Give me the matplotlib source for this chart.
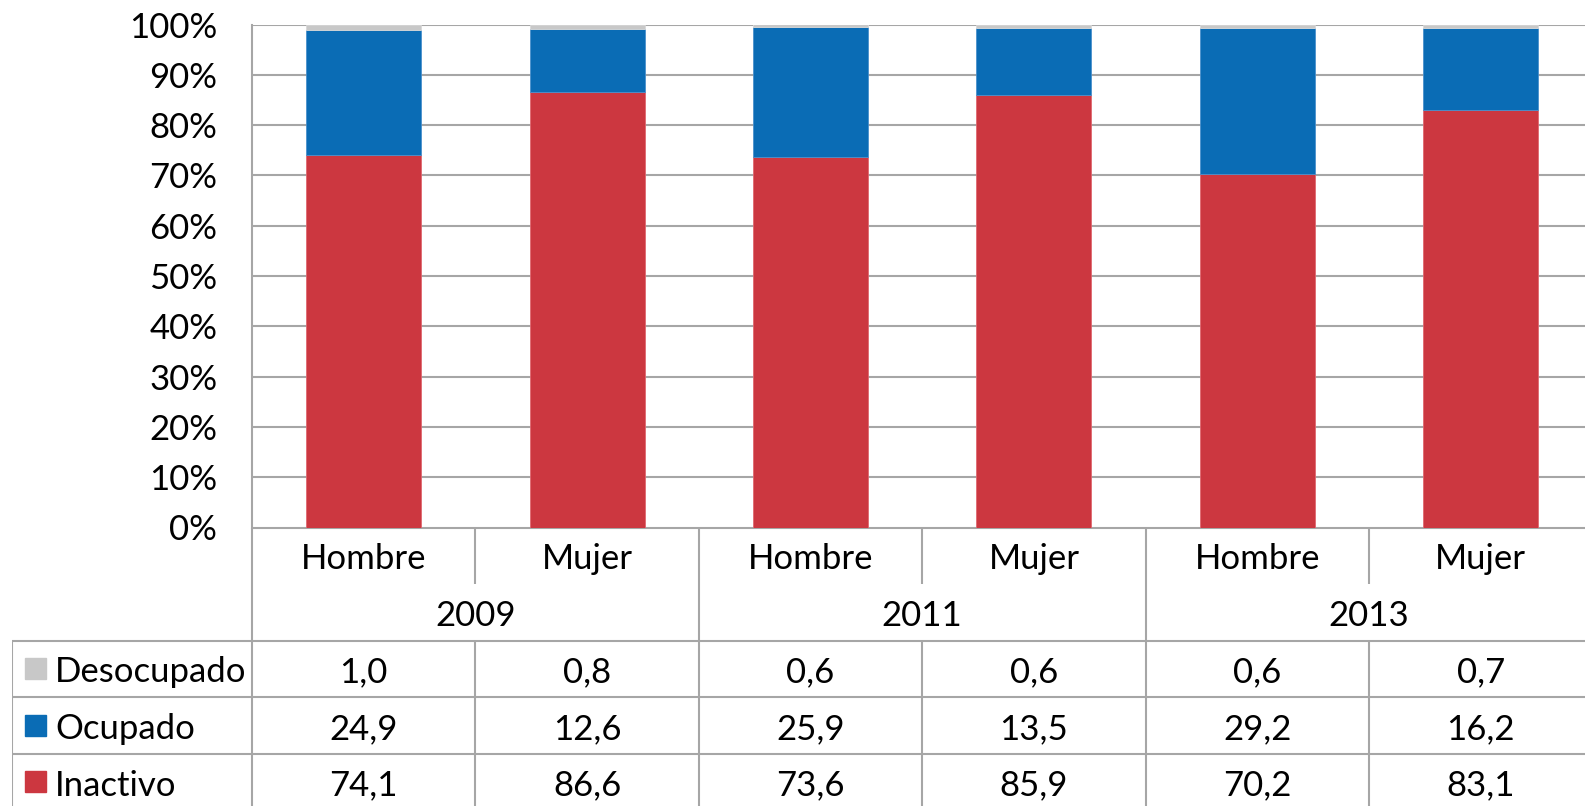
import matplotlib.pyplot as plt
import numpy as np

plt.rcParams['font.family'] = ['Lato', 'DejaVu Sans']

# datos
anios = ['2009', '2011', '2013']
sexos = ['Hombre', 'Mujer', 'Hombre', 'Mujer', 'Hombre', 'Mujer']
series = ['Desocupado', 'Ocupado', 'Inactivo']
desocupado = [1.0, 0.8, 0.6, 0.6, 0.6, 0.7]
ocupado = [24.9, 12.6, 25.9, 13.5, 29.2, 16.2]
inactivo = [74.1, 86.6, 73.6, 85.9, 70.2, 83.1]
colores = {'Desocupado': '#C8C8C8', 'Ocupado': '#0A6CB5', 'Inactivo': '#CC3740'}

W, H = 1585, 806
fig = plt.figure(figsize=(W / 100, H / 100), dpi=100)

x0 = 252          # borde izquierdo del grafico (px)
col = 223.4       # ancho de columna (px)
ncol = len(sexos)
top, base = 24.5, 527.5
fila = 56.6
gris = '#A6A6A6'
fs = 25

# eje de barras
ax = fig.add_axes([x0 / W, 1 - base / H, ncol * col / W, (base - top) / H])
x = np.arange(ncol) + 0.5
ax.bar(x, inactivo, 0.515, color=colores['Inactivo'], edgecolor='#E06870', linewidth=0.6, zorder=3)
ax.bar(x, ocupado, 0.515, bottom=inactivo, color=colores['Ocupado'], edgecolor='#4A90CC', linewidth=0.6, zorder=3)
tot = np.array(inactivo) + np.array(ocupado)
ax.bar(x, desocupado, 0.515, bottom=tot, color=colores['Desocupado'], edgecolor='#D8D8D8', linewidth=0.6, zorder=3)
ax.set_xlim(0, ncol)
ax.set_ylim(0, 100)
ax.set_yticks(np.arange(0, 101, 10))
ax.set_yticklabels([f'{v}%' for v in range(0, 101, 10)], fontsize=fs)
ax.set_xticks([])
ax.tick_params(axis='y', length=0, pad=25)
ax.grid(axis='y', color=gris, linewidth=1.5, zorder=0)
for s in ['top', 'right', 'bottom']:
    ax.spines[s].set_visible(False)
ax.spines['left'].set_color(gris)
ax.spines['left'].set_linewidth(1.5)

# tabla de datos
xl = 12
tb = fig.add_axes([xl / W, 1 - (base + 5 * fila) / H, (x0 - xl + ncol * col) / W, 5 * fila / H])
izq = -(x0 - xl) / col
tb.set_xlim(izq, ncol)
tb.set_ylim(5, 0)
tb.axis('off')
lk = dict(color=gris, linewidth=1.5, solid_capstyle='butt')

# lineas horizontales
tb.plot([0, ncol], [0, 0], **lk)
tb.plot([izq, ncol], [2, 2], **lk)
tb.plot([izq, ncol], [3, 3], **lk)
tb.plot([izq, ncol], [4, 4], **lk)
# verticales
tb.plot([0, 0], [0, 5], **lk)
tb.plot([izq, izq], [2, 5], **lk)
for i in range(1, ncol):
    if i % 2 == 0:
        tb.plot([i, i], [0, 5], **lk)
    else:
        tb.plot([i, i], [0, 1], **lk)
        tb.plot([i, i], [2, 5], **lk)

dy = 0.06
for i, s in enumerate(sexos):
    tb.text(i + 0.5, 0.5 + dy, s, ha='center', va='center', fontsize=fs)
for j, a in enumerate(anios):
    tb.text(2 * j + 1, 1.5 + dy, a, ha='center', va='center', fontsize=fs)

valores = [desocupado, ocupado, inactivo]
kx = 13 / col + izq
for r, (nom, vals) in enumerate(zip(series, valores)):
    yc = 2.5 + r
    tb.add_patch(plt.Rectangle((kx, yc - 0.19), 21 / col, 0.37, color=colores[nom], clip_on=False))
    tb.text(43 / col + izq, yc + dy, nom, ha='left', va='center', fontsize=fs)
    for i, v in enumerate(vals):
        tb.text(i + 0.5, yc + dy, f'{v:.1f}'.replace('.', ','), ha='center', va='center', fontsize=fs)

fig.savefig('out.png', dpi=100)
